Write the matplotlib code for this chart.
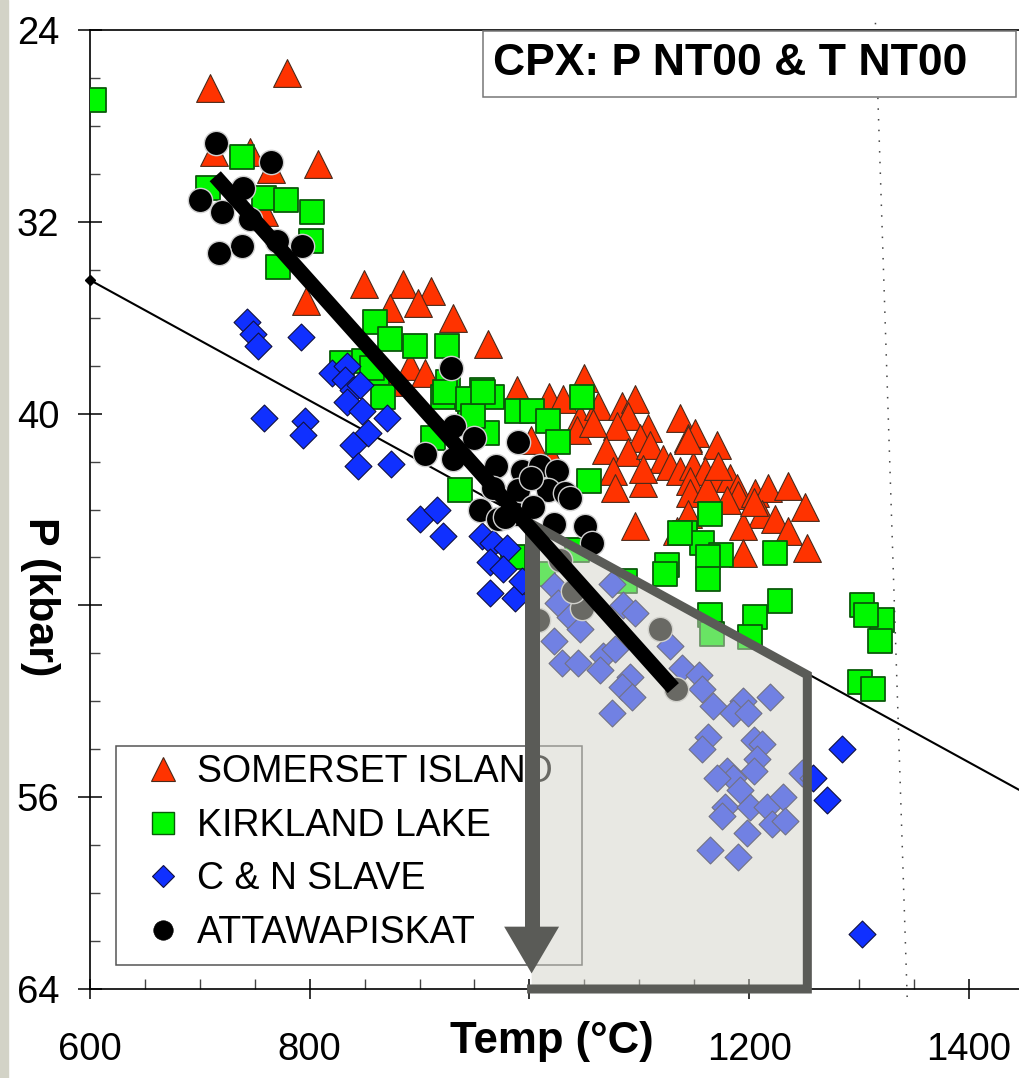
import matplotlib
matplotlib.use('Agg')
import matplotlib.pyplot as plt
from matplotlib.lines import Line2D
from matplotlib.patches import Rectangle

plt.rcParams['font.family'] = ['Liberation Sans', 'DejaVu Sans']

# ---- data: temperature (deg C) vs pressure (kbar) ----
somerset_t = [709, 779, 808, 713, 765, 746, 758, 797, 849, 885, 910, 873, 899, 930, 962,
              852, 891, 905, 873, 989, 1050, 1018, 1031, 1046, 1062, 1084, 1096, 1090, 1080,
              1043, 1058, 1108, 1101, 1070, 1090, 1110, 1122, 1076, 1078, 1103, 1103, 1128,
              1137, 1144, 1151, 1171, 1137, 1149, 1160, 1171, 1146, 1183, 1189, 1190, 1146,
              1162, 1205, 1217, 1235, 1212, 1224, 1235, 1251, 1253, 1194, 1194, 1144, 1134,
              1096, 1180, 1204, 1172, 1144, 1001, 1021]
somerset_p = [26.4, 25.8, 29.6, 29.1, 29.8, 29.1, 31.6, 35.3, 34.6, 34.6, 34.9, 35.6, 35.4,
              36.0, 37.1, 37.4, 38.0, 38.3, 38.7, 39.0, 38.5, 39.3, 39.4, 40.2, 39.7, 39.7,
              39.4, 40.1, 40.5, 40.7, 40.4, 40.6, 41.0, 41.5, 41.6, 41.3, 41.9, 42.4, 43.1,
              42.9, 42.3, 42.2, 40.2, 41.0, 40.8, 41.3, 42.4, 42.2, 42.4, 42.7, 42.8, 42.7,
              43.1, 43.4, 43.3, 43.1, 43.3, 43.1, 43.0, 44.2, 44.4, 44.9, 43.9, 45.6, 44.7,
              45.8, 44.2, 44.9, 44.7, 43.6, 43.7, 42.2, 41.1, 41.1, 41.9]

kirkland_t = [604, 738, 707, 758, 778, 802, 801, 771, 859, 873, 896, 925, 829, 861, 867, 849,
              957, 966, 946, 961, 921, 926, 989, 937, 912, 923, 944, 949, 1002, 1017, 1026,
              1048, 1054, 1164, 1142, 1157, 1174, 1163, 1125, 1163, 1224, 1123, 1228, 1205,
              1201, 1164, 1166, 1087, 1012, 1303, 1321, 1319, 1306, 1301, 1313, 985, 857,
              1137, 1043, 958]
kirkland_p = [26.9, 29.3, 30.6, 31.0, 31.1, 31.6, 32.8, 33.9, 36.2, 36.9, 37.2, 37.2, 37.9,
              38.3, 39.3, 37.8, 39.0, 39.3, 40.2, 40.8, 39.3, 38.7, 39.9, 43.2, 41.0, 39.1,
              39.4, 40.1, 39.9, 40.3, 41.2, 39.3, 42.8, 44.2, 45.0, 45.4, 45.9, 46.0, 46.3,
              46.9, 45.8, 46.7, 47.8, 48.5, 49.3, 48.4, 49.2, 47.0, 46.7, 48.0, 48.6, 49.5,
              48.4, 51.2, 51.5, 46.0, 38.1, 45.0, 45.7, 39.1]

slave_t = [743, 748, 753, 792, 758, 796, 794, 820, 834, 832, 839, 846, 834, 848, 870, 853,
           839, 844, 874, 900, 916, 921, 957, 967, 980, 964, 976, 964, 987, 993, 1022, 1026,
           1037, 1046, 1022, 1030, 1044, 1067, 1078, 1064, 1075, 1085, 1096, 1092, 1084, 1093,
           1075, 1128, 1139, 1154, 1157, 1167, 1194, 1219, 1185, 1199, 1163, 1157, 1204, 1212,
           1207, 1180, 1185, 1171, 1204, 1248, 1192, 1178, 1175, 1201, 1216, 1231, 1221, 1233,
           1198, 1164, 1190, 1285, 1258, 1271, 1303]
slave_p = [36.2, 36.7, 37.2, 36.8, 40.2, 40.3, 40.9, 38.3, 38.0, 38.6, 39.0, 38.8, 39.5, 39.9,
           40.2, 40.8, 41.3, 42.2, 42.1, 44.4, 44.0, 45.1, 45.1, 45.4, 45.6, 46.2, 46.5, 47.5,
           47.7, 47.0, 47.2, 47.9, 48.5, 49.0, 49.5, 50.4, 50.4, 50.1, 49.8, 50.7, 47.1, 48.0,
           48.3, 51.0, 51.4, 51.8, 52.5, 49.7, 50.6, 50.9, 51.5, 52.2, 52.0, 51.8, 52.5, 52.5,
           53.5, 54.0, 53.6, 53.8, 54.4, 54.9, 55.2, 55.2, 54.9, 55.0, 55.7, 56.4, 56.8, 56.4,
           56.4, 56.0, 57.1, 57.0, 57.5, 58.2, 58.5, 54.0, 55.2, 56.1, 61.7]

attawa_t = [715, 765, 739, 700, 720, 746, 770, 793, 738, 717, 929, 931, 950, 905, 930, 970,
            967, 955, 971, 990, 993, 1010, 1025, 1017, 1032, 990, 1001, 989, 1003, 1022, 978,
            1051, 1057, 1037, 1008, 1048, 1040, 1119, 1133, 1028]
attawa_p = [28.7, 29.5, 30.6, 31.1, 31.6, 31.9, 32.8, 33.0, 33.0, 33.3, 38.1, 40.5, 41.0,
            41.7, 41.9, 42.2, 43.1, 44.0, 44.4, 41.2, 42.4, 42.2, 42.4, 43.2, 43.3, 43.2,
            42.7, 44.2, 43.9, 44.6, 44.3, 44.7, 45.4, 43.5, 48.6, 48.1, 47.4, 49.0, 51.5, 46.1]

# reference lines
geotherm_t = [600, 1450]
geotherm_p = [34.43, 55.8]
trend_t = [714, 1131]
trend_p = [30.1, 51.45]
dotted_t = [1315, 1344]
dotted_p = [23.7, 64.5]

# shaded field with downward arrow
field_t = [1002, 1253, 1253, 1002]
field_p = [44.6, 50.9, 64.0, 64.0]
arrow_t = [1002, 1002]
arrow_p = [44.6, 61.5]
head_t = [977, 1027, 1002]
head_p = [61.4, 61.4, 63.35]

labels = ['SOMERSET ISLAND', 'KIRKLAND LAKE', 'C & N SLAVE', 'ATTAWAPISKAT']

W, H = 1020, 1078
fig = plt.figure(figsize=(W / 100, H / 100), dpi=100)
fig.patches.append(Rectangle((0, 0), 8 / W, 1, transform=fig.transFigure,
                             color='#d3d3c7', zorder=0))

ax = fig.add_axes([90 / W, 89 / H, 930 / W, 959 / H])
ax.set_xlim(600, 1446.6)
ax.set_ylim(64, 24)

ax.plot(geotherm_t, geotherm_p, color='black', lw=1.5, marker='D', ms=5,
        zorder=1.5, clip_on=False)
ax.plot(dotted_t, dotted_p, color='#444444', lw=1.1, ls=(0, (1, 6)),
        zorder=1.5, clip_on=False)

ax.scatter(somerset_t, somerset_p, marker='^', s=400, c='#ff3300',
           edgecolors='#4a2a1a', linewidths=0.8, zorder=2)
ax.scatter(kirkland_t, kirkland_p, marker='s', s=306, c='#00f800',
           edgecolors='#0a5a0a', linewidths=1.3, zorder=3)
ax.scatter(slave_t, slave_p, marker='D', s=188, c='#1030ff',
           edgecolors='#101040', linewidths=0.8, zorder=4)
ax.scatter(attawa_t, attawa_p, marker='o', s=306, c='black',
           edgecolors='#d0d0d0', linewidths=1.0, zorder=5)

# legend: frame drawn as its own box so the padding matches
ax.add_patch(Rectangle((116 / W, 1 - 965 / H), 466 / W, 219 / H, transform=fig.transFigure,
                       facecolor='white', edgecolor='#555555', lw=1.1, zorder=6,
                       clip_on=False))
handles = [
    Line2D([], [], ls='', marker='^', ms=17, mfc='#ff3300', mec='#4a2a1a', mew=0.8),
    Line2D([], [], ls='', marker='s', ms=16, mfc='#00f800', mec='#0a5a0a', mew=1.0),
    Line2D([], [], ls='', marker='D', ms=11.5, mfc='#1030ff', mec='#101040', mew=0.8),
    Line2D([], [], ls='', marker='o', ms=14, mfc='black', mec='black', mew=0.5),
]
leg = ax.legend(handles, labels, loc='upper left',
                bbox_to_anchor=(148 / W, 1 - 754 / H), bbox_transform=fig.transFigure,
                borderaxespad=0, borderpad=0, fontsize=27, frameon=False,
                handlelength=0.8, handletextpad=0.5, labelspacing=0.47)
leg.set_zorder(6.5)

# shaded field over the points and legend
ax.fill(field_t, field_p, color=(210 / 255, 210 / 255, 200 / 255), alpha=0.5,
        lw=0, zorder=7)
ax.plot(field_t, field_p, color='#5a5b57', lw=6.5, solid_joinstyle='miter',
        zorder=7.5, clip_on=False)
ax.plot(arrow_t, arrow_p, color='#5a5b57', lw=10.8, solid_capstyle='butt', zorder=7.5)
ax.fill(head_t, head_p, color='#5a5b57', lw=0, zorder=7.5)

ax.plot(trend_t, trend_p, color='black', lw=10.8, solid_capstyle='butt', zorder=8)

# axes styling
ax.spines['right'].set_visible(False)
for s in ['left', 'bottom', 'top']:
    ax.spines[s].set_linewidth(1.2)
ax.set_xticks([600, 800, 1000, 1200, 1400])
ax.set_xticklabels(['600', '800', '', '1200', '1400'])
ax.set_xticks(range(650, 1450, 50), minor=True)
ax.set_yticks([24, 32, 40, 48, 56, 64])
ax.set_yticklabels(['24', '32', '40', '', '56', '64'])
ax.set_yticks(range(26, 64, 2), minor=True)
ax.tick_params(axis='x', which='major', direction='inout', length=14.5, width=1.1,
               pad=24, labelsize=27.5)
ax.tick_params(axis='y', which='major', direction='inout', length=17, width=1.1,
               pad=13.5, labelsize=27.5)
ax.tick_params(which='minor', direction='in', length=7.2, width=1.0, color='#444444')
ax.tick_params(top=False, right=False)

fig.text(40 / W, 1 - 597 / H, 'P (kbar)', rotation=270, ha='center', va='center',
         fontsize=31, fontweight='bold')
fig.text(552 / W, 1 - 1053 / H, 'Temp (°C)', ha='center', va='baseline',
         fontsize=31.5, fontweight='bold')

fig.patches.append(Rectangle((483 / W, 1 - 97 / H), 533 / W, 66 / H,
                             transform=fig.transFigure, facecolor='white',
                             edgecolor='#777777', lw=1.1, zorder=10))
fig.text(493 / W, 1 - 75 / H, 'CPX: P NT00 & T NT00', ha='left', va='baseline',
         fontsize=32, fontweight='bold', zorder=11)

fig.savefig('out.png', dpi=100)
